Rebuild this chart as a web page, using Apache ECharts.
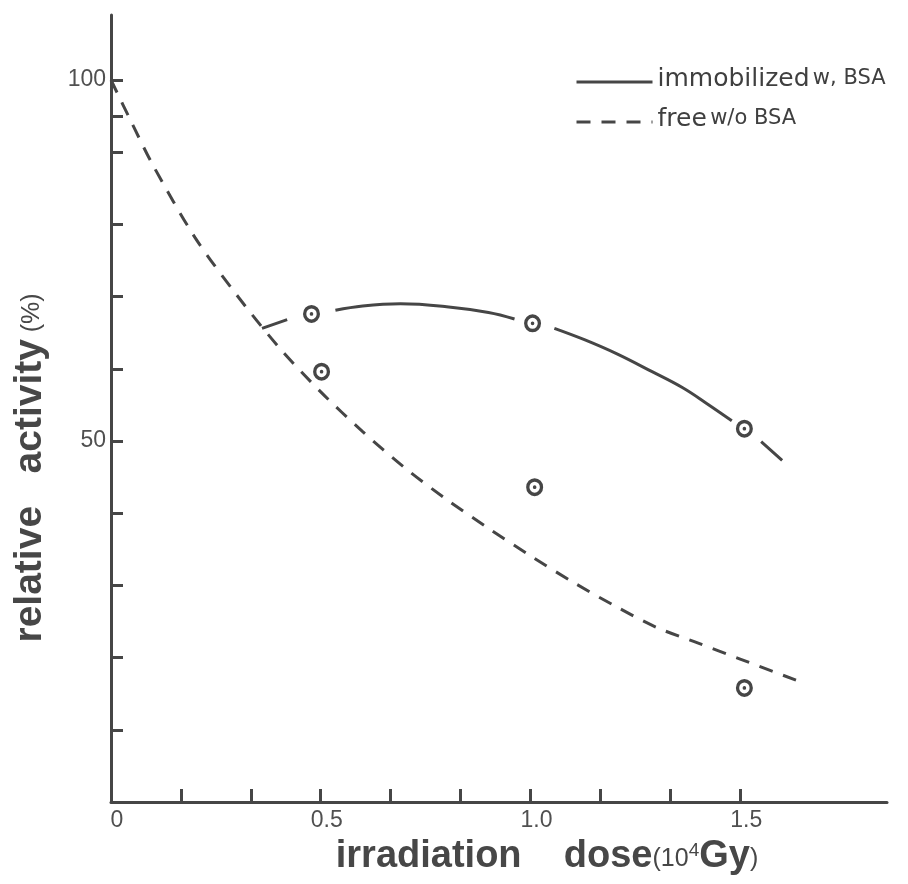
<!DOCTYPE html>
<html>
<head>
<meta charset="utf-8">
<title>relative activity vs irradiation dose</title>
<script src="https://cdn.jsdelivr.net/npm/echarts@6/dist/echarts.min.js"></script>
<style>
  html, body { margin: 0; padding: 0; background: #fff; }
  #chart { width: 908px; height: 884px; }
</style>
</head>
<body>
<div id="chart"></div>
<script>
// values (x in 10^4 Gy, y in %)
var solidCurve = [
  [0.36, 65.6], [0.42, 66.8], null,
  [0.535, 68.1], [0.6, 68.7], [0.69, 69.0], [0.8, 68.6], [0.9, 67.8], [0.962, 66.9], null,
  [1.057, 65.6], [1.13, 64.0], [1.205, 62.1], [1.29, 59.6], [1.362, 57.4], [1.42, 55.2], [1.48, 52.8], null,
  [1.55, 49.9], [1.6, 47.3]
];
var freeCurve = [
  [0, 100], [0.05, 94.0], [0.1, 88.2], [0.2, 78.2], [0.3, 70.2], [0.4, 63.0], [0.5, 56.8],
  [0.6, 51.3], [0.7, 46.3], [0.8, 41.9], [0.9, 37.9], [1.0, 34.1], [1.1, 30.5], [1.2, 27.2],
  [1.3, 24.2], [1.4, 22.0], [1.5, 19.8], [1.65, 16.5]
];
var immobilizedPts = [[0.478, 67.6], [1.005, 66.3], [1.51, 51.7]];
var freePts = [[0.502, 59.6], [1.01, 43.6], [1.51, 15.8]];

var xTickValues = [0.1667, 0.3333, 0.5, 0.6667, 0.8333, 1.0, 1.1667, 1.3333, 1.5];
var xLabelValues = [0, 0.5, 1.0, 1.5];
var yTickValues = [10, 20, 30, 40, 50, 60, 70, 80, 90, 95, 100];
var yLabelValues = [50, 100];

var ink = '#464646';
// ring with a dot in the middle
var ringPath = 'path://M0,-8.5A8.5,8.5 0 1,1 0,8.5A8.5,8.5 0 1,1 0,-8.5Z' +
  'M0,-5.2A5.2,5.2 0 1,0 0,5.2A5.2,5.2 0 1,0 0,-5.2Z' +
  'M0,-1.8A1.8,1.8 0 1,1 0,1.8A1.8,1.8 0 1,1 0,-1.8Z';

var chart = echarts.init(document.getElementById('chart'));
var option = {
  backgroundColor: '#fff',
  animation: false,
  grid: { left: 111, right: 21, top: 15, bottom: 82 },
  legend: {
    orient: 'vertical',
    left: 575,
    top: 65,
    padding: 0,
    itemWidth: 76,
    itemHeight: 14,
    itemGap: 6,
    itemStyle: { opacity: 0 },
    lineStyle: { width: 3 },
    data: ['immobilized w, BSA', 'free w/o BSA'],
    formatter: function (name) {
      if (name === 'free w/o BSA') return '{a|free} {b|w/o BSA}';
      return '{a|immobilized} {b|w, BSA}';
    },
    textStyle: {
      lineHeight: 28,
      padding: [0, 0, 6, 0],
      rich: {
        a: { fontFamily: 'DejaVu Sans', fontSize: 25, color: '#3f3f3f' },
        b: { fontFamily: 'DejaVu Sans', fontSize: 21, color: '#3f3f3f' }
      }
    }
  },
  xAxis: {
    type: 'value',
    min: 0,
    max: 1.85,
    axisLine: { lineStyle: { color: ink, width: 3 } },
    axisTick: { inside: true, length: 13, customValues: xTickValues, lineStyle: { color: ink, width: 3 } },
    axisLabel: {
      customValues: xLabelValues,
      margin: 7,
      padding: [0, 0, 0, 12],
      fontFamily: 'Liberation Sans',
      fontSize: 23,
      color: '#505050',
      formatter: function (v) { return v === 0 ? '0' : v.toFixed(1); }
    },
    splitLine: { show: false }
  },
  yAxis: {
    type: 'value',
    min: 0,
    max: 109,
    axisLine: { lineStyle: { color: ink, width: 3 } },
    axisTick: { inside: true, length: 12, customValues: yTickValues, lineStyle: { color: ink, width: 3 } },
    axisLabel: {
      customValues: yLabelValues,
      margin: 5,
      fontFamily: 'Liberation Sans',
      fontSize: 23,
      color: '#505050'
    },
    splitLine: { show: false }
  },
  graphic: [
    {
      type: 'text',
      x: 30,
      y: 468,
      rotation: Math.PI / 2,
      style: {
        text: '{a|relative   activity}  {b|(%)}',
        align: 'center',
        verticalAlign: 'middle',
        rich: {
          a: { fontFamily: 'Liberation Sans', fontWeight: 'bold', fontSize: 39, fill: '#474747' },
          b: { fontFamily: 'Liberation Sans', fontSize: 25, fill: '#474747', verticalAlign: 'bottom', padding: [0, 0, 5, 0] }
        }
      }
    },
    {
      type: 'text',
      x: 547,
      y: 857,
      style: {
        text: '{a|irradiation    dose}{b|(10}{c|4}{a|Gy}{b|)}',
        align: 'center',
        verticalAlign: 'middle',
        rich: {
          a: { fontFamily: 'Liberation Sans', fontWeight: 'bold', fontSize: 38, fill: '#474747' },
          b: { fontFamily: 'Liberation Sans', fontSize: 25, fill: '#474747', verticalAlign: 'bottom', padding: [0, 0, 4, 0] },
          c: { fontFamily: 'Liberation Sans', fontSize: 19, fill: '#474747', verticalAlign: 'top', padding: [3, 0, 0, 0] }
        }
      }
    }
  ],
  series: [
    {
      name: 'immobilized w, BSA',
      type: 'line',
      data: solidCurve,
      smooth: 0.4,
      connectNulls: false,
      symbol: 'none',
      lineStyle: { color: ink, width: 3 },
      itemStyle: { color: ink }
    },
    {
      name: 'free w/o BSA',
      type: 'line',
      data: freeCurve,
      smooth: 0.3,
      symbol: 'none',
      lineStyle: { color: ink, width: 3, type: [14, 11] },
      itemStyle: { color: ink }
    },
    {
      name: 'immobilized points',
      type: 'scatter',
      data: immobilizedPts,
      symbol: ringPath,
      symbolSize: [17, 18],
      itemStyle: { color: ink, opacity: 1 },
      z: 5
    },
    {
      name: 'free points',
      type: 'scatter',
      data: freePts,
      symbol: ringPath,
      symbolSize: [17, 18],
      itemStyle: { color: ink, opacity: 1 },
      z: 5
    }
  ]
};
chart.setOption(option);
window.onresize = function () {
  chart.resize();
};
</script>
</body>
</html>
